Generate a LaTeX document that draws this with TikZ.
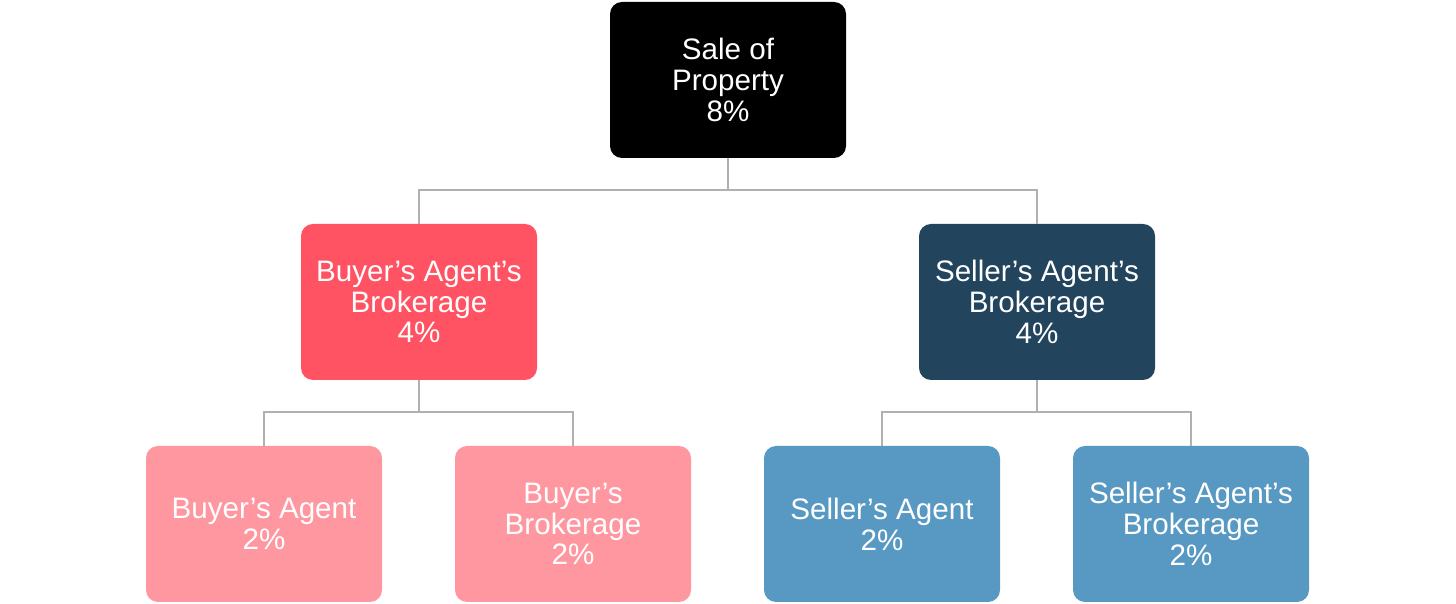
\documentclass[tikz,border=0pt]{standalone}
\usepackage{fontspec}
\setmainfont{Liberation Sans}
\definecolor{cblack}{HTML}{000000}
\definecolor{cred}{HTML}{FF5263}
\definecolor{cnavy}{HTML}{22445D}
\definecolor{cpink}{HTML}{FF97A0}
\definecolor{cblue}{HTML}{5899C3}
\definecolor{cline}{HTML}{B0B0B0}
\begin{document}
\begin{tikzpicture}[x=1bp,y=1bp,
  box/.style={rectangle, rounded corners=12bp, minimum width=236bp, minimum height=156bp,
    inner sep=0pt, align=center, text=white, font=\fontsize{29.7}{31}\selectfont},
  conn/.style={draw=cline, line width=1.8bp}]
\useasboundingbox (0,0) rectangle (1456,604);
\node[box, fill=cblack] (top) at (728,524) {Sale of\\Property\\8\%};
\node[box, fill=cred] (bb) at (419,302) {Buyer’s Agent’s\\Brokerage\\4\%};
\node[box, fill=cnavy] (sb) at (1037,302) {Seller’s Agent’s\\Brokerage\\4\%};
\node[box, fill=cpink] (ba) at (264,80) {Buyer’s Agent\\2\%};
\node[box, fill=cpink] (bbr) at (573,80) {Buyer’s\\Brokerage\\2\%};
\node[box, fill=cblue] (sa) at (882,80) {Seller’s Agent\\2\%};
\node[box, fill=cblue] (sab) at (1191,80) {Seller’s Agent’s\\Brokerage\\2\%};
\coordinate (j1) at (728,414);
\coordinate (j2) at (419,192);
\coordinate (j3) at (1037,192);
\draw[conn] (top.south) -- (j1);
\draw[conn] (j1) -| (bb.north);
\draw[conn] (j1) -| (sb.north);
\draw[conn] (bb.south) -- (j2);
\draw[conn] (j2) -| (ba.north);
\draw[conn] (j2) -| (bbr.north);
\draw[conn] (sb.south) -- (j3);
\draw[conn] (j3) -| (sa.north);
\draw[conn] (j3) -| (sab.north);
\end{tikzpicture}
\end{document}
